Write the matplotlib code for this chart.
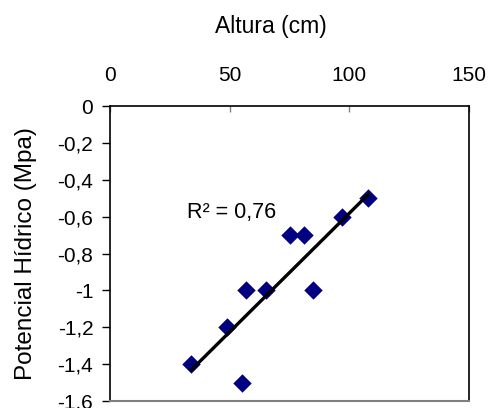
import numpy as np
import matplotlib
matplotlib.use("Agg")
import matplotlib.pyplot as plt

plt.rcParams['font.family'] = ['Liberation Sans', 'DejaVu Sans']

# Altura (cm) vs Potencial Hídrico (Mpa)
altura = [34, 49, 57, 55, 65, 75, 81, 85, 97, 108]
potencial = [-1.4, -1.2, -1.0, -1.5, -1.0, -0.7, -0.7, -1.0, -0.6, -0.5]
x_ticks = [0, 50, 100, 150]
y_ticks = [0, -0.2, -0.4, -0.6, -0.8, -1, -1.2, -1.4, -1.6]
y_labels = ["0", "-0,2", "-0,4", "-0,6", "-0,8", "-1", "-1,2", "-1,4", "-1,6"]
r2_text = "R² = 0,76"

fig = plt.figure(figsize=(4.93, 4.08), dpi=100)
ax = fig.add_axes([110/493, 1 - 401/408, (469 - 110)/493, (401 - 106)/408])

ax.scatter(altura, potencial, marker='D', s=88, color='#000080', zorder=3,
           linewidths=0)

# linha de tendência
a, b = np.polyfit(altura, potencial, 1)
xs = np.array([min(altura), max(altura)])
ax.plot(xs, a*xs + b, color='black', lw=2.4, zorder=4)

ax.text(32.3, -0.58, r2_text, fontsize=15.5, ha='left', va='center')

ax.set_xlim(0, 150)
ax.set_ylim(-1.6, 0)
ax.xaxis.tick_top()
ax.xaxis.set_label_position('top')
ax.set_xticks(x_ticks)
ax.set_yticks(y_ticks)
ax.set_yticklabels(y_labels)
ax.tick_params(axis='x', direction='in', length=4, width=1, color='#808080',
               labelsize=15, pad=15)
ax.tick_params(axis='y', direction='out', length=6, width=1, labelsize=15, pad=6)

ax.set_xlabel("Altura (cm)", fontsize=16.5)
ax.xaxis.set_label_coords(0.448, 1.0 + (106 - 26)/295)
ax.set_ylabel("Potencial Hídrico (Mpa)", fontsize=17.5)
ax.yaxis.set_label_coords(-(110 - 26)/359, 0.5)
ax.xaxis.label.set_va('center')
ax.yaxis.label.set_va('center')

for s in ['top', 'left', 'right']:
    ax.spines[s].set_color('black')
    ax.spines[s].set_linewidth(1.2)
ax.spines['bottom'].set_color('#808080')
ax.spines['bottom'].set_linewidth(1.5)

fig.savefig("out.png", dpi=100)
